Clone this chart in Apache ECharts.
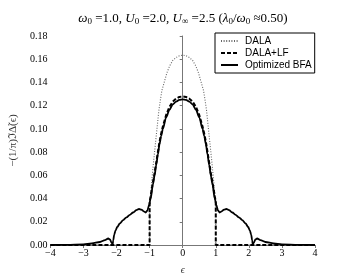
<!DOCTYPE html>
<html>
<head>
<meta charset="utf-8">
<script src="https://cdn.jsdelivr.net/npm/echarts@6/dist/echarts.min.js"></script>
<style>
html,body{margin:0;padding:0;background:#fff;}
#c{width:350px;height:280px;}
</style>
</head>
<body>
<div id="c"></div>
<script>
// ---- data ----
const xTicks = [-4, -3, -2, -1, 0, 1, 2, 3, 4];
const yTicks = [0.00, 0.02, 0.04, 0.06, 0.08, 0.10, 0.12, 0.14, 0.16, 0.18];

const epsDALA = [-4, -1, -1, -0.96, -0.92, -0.88, -0.84, -0.8, -0.76, -0.72, -0.68, -0.63, -0.55, -0.48, -0.4, -0.3, -0.2, -0.1, 0,
                 0.1, 0.2, 0.3, 0.4, 0.48, 0.55, 0.63, 0.68, 0.72, 0.76, 0.8, 0.84, 0.88, 0.92, 0.96, 1, 1, 4];
const dala = [0, 0, 0.034, 0.047, 0.060, 0.072, 0.083, 0.094, 0.105, 0.116, 0.124, 0.133, 0.141, 0.148, 0.154, 0.159, 0.1615, 0.163, 0.1635,
              0.163, 0.1615, 0.159, 0.154, 0.148, 0.141, 0.133, 0.124, 0.116, 0.105, 0.094, 0.083, 0.072, 0.060, 0.047, 0.034, 0, 0];

const epsLF = [-4, -1, -1, -0.97, -0.93, -0.9, -0.85, -0.8, -0.75, -0.7, -0.65, -0.6, -0.5, -0.4, -0.3, -0.2, -0.1, 0,
               0.1, 0.2, 0.3, 0.4, 0.5, 0.6, 0.65, 0.7, 0.75, 0.8, 0.85, 0.9, 0.93, 0.97, 1, 1, 4];
const dalaLF = [0, 0, 0.037, 0.042, 0.049, 0.054, 0.062, 0.071, 0.080, 0.089, 0.096, 0.102, 0.112, 0.119, 0.1235, 0.126, 0.1275, 0.128,
                0.1275, 0.126, 0.1235, 0.119, 0.112, 0.102, 0.096, 0.089, 0.080, 0.071, 0.062, 0.054, 0.049, 0.042, 0.037, 0, 0];

const epsBFA = [-4, -3.5, -3.0, -2.75, -2.5, -2.35, -2.25, -2.2, -2.15, -2.12, -2.1, -2.07, -2.03, -1.98, -1.9, -1.8, -1.7, -1.6, -1.5, -1.4,
                -1.32, -1.25, -1.18, -1.12, -1.07, -1.02, -0.97, -0.9, -0.85, -0.8, -0.75, -0.7, -0.65, -0.6, -0.5, -0.4, -0.3, -0.2, -0.1, 0,
                0.1, 0.2, 0.3, 0.4, 0.5, 0.6, 0.65, 0.7, 0.75, 0.8, 0.85, 0.9, 0.97, 1.02, 1.07, 1.12, 1.18, 1.25, 1.32,
                1.4, 1.5, 1.6, 1.7, 1.8, 1.9, 1.98, 2.03, 2.07, 2.1, 2.12, 2.15, 2.2, 2.25, 2.35, 2.5, 2.75, 3.0, 3.5, 4];
const bfa = [0, 0.0001, 0.0006, 0.0013, 0.0026, 0.0042, 0.0056, 0.0048, 0.002, 0.0, 0.004, 0.009, 0.0125, 0.0155, 0.0185, 0.0215, 0.0238, 0.026, 0.028, 0.030,
             0.031, 0.0305, 0.029, 0.028, 0.0295, 0.034, 0.040, 0.052, 0.060, 0.069, 0.078, 0.087, 0.094, 0.100, 0.110, 0.1165, 0.121, 0.1235, 0.125, 0.1255,
             0.125, 0.1235, 0.121, 0.1165, 0.110, 0.100, 0.094, 0.087, 0.078, 0.069, 0.060, 0.052, 0.040, 0.034, 0.0295, 0.028, 0.029, 0.0305, 0.031,
             0.030, 0.028, 0.026, 0.0238, 0.0215, 0.0185, 0.0155, 0.0125, 0.009, 0.004, 0.0, 0.002, 0.0048, 0.0056, 0.0042, 0.0026, 0.0013, 0.0006, 0.0001, 0];

const seriesNames = ['DALA', 'DALA+LF', 'Optimized BFA'];

// ---- chart ----
const pairs = (xs, ys) => xs.map((x, i) => [x, ys[i]]);
const serif = 'Liberation Serif';
const chart = echarts.init(document.getElementById('c'), null, {renderer: 'canvas'});
chart.setOption({
  animation: false,
  backgroundColor: '#fff',
  title: {
    text: '{i|ω}{s|0} =1.0, {i|U}{s|0} =2.0, {i|U}{s|∞} =2.5 ({i|λ}{s|0}/{i|ω}{s|0} ≈0.50)',
    left: 178, top: 6, textAlign: 'center',
    textStyle: {
      fontFamily: serif, fontSize: 13, fontWeight: 'normal', color: '#000',
      rich: {
        i: {fontFamily: serif, fontStyle: 'italic', fontSize: 13, color: '#000'},
        s: {fontFamily: serif, fontSize: 9, color: '#000', padding: [6, 0, 0, 0]}
      }
    }
  },
  legend: {
    orient: 'vertical', left: 215, top: 33,
    itemWidth: 17, itemHeight: 10, itemGap: 2,
    padding: [3, 3, 3, 5],
    borderColor: '#000', borderWidth: 1, borderRadius: 0,
    itemStyle: {opacity: 0},
    textStyle: {fontFamily: 'Liberation Sans', fontSize: 10, color: '#000', padding: [0, 0, 0, 2]},
    data: seriesNames
  },
  grid: {left: 44, right: 35, top: 36, bottom: 28.5, containLabel: false},
  xAxis: {
    type: 'value', min: xTicks[0], max: xTicks[xTicks.length - 1], interval: 1,
    name: 'ϵ', nameLocation: 'middle', nameGap: 20,
    nameTextStyle: {fontFamily: serif, fontStyle: 'italic', fontSize: 10, color: '#333'},
    axisLine: {show: true, lineStyle: {color: '#777', width: 1}},
    axisTick: {show: true, length: 3, lineStyle: {color: '#777'}},
    splitLine: {show: false},
    axisLabel: {fontFamily: serif, fontSize: 10, color: '#000', margin: 3,
      formatter: v => (v < 0 ? '\u2212' + Math.abs(v) : String(v))}
  },
  yAxis: {
    type: 'value', min: yTicks[0], max: yTicks[yTicks.length - 1], interval: 0.02,
    name: '\u2212(1/\u03c0)\u2111\u0394\u0303(\u03f5)', nameLocation: 'middle', nameGap: 18, nameRotate: 90,
    nameTextStyle: {fontFamily: serif, fontSize: 11, color: '#333'},
    axisLine: {show: true, lineStyle: {color: '#777', width: 1}},
    axisTick: {show: true, length: 3, lineStyle: {color: '#777'}},
    splitLine: {show: false},
    axisLabel: {fontFamily: serif, fontSize: 10, color: '#000', margin: 3,
      formatter: v => v.toFixed(2)}
  },
  series: [
    {name: seriesNames[0], type: 'line', showSymbol: false, symbol: 'none', smooth: false,
      data: pairs(epsDALA, dala), z: 2,
      lineStyle: {color: '#666', width: 1.1, type: [1, 1.6]}, itemStyle: {color: '#666'}},
    {name: seriesNames[1], type: 'line', showSymbol: false, symbol: 'none', smooth: false,
      data: pairs(epsLF, dalaLF), z: 4,
      lineStyle: {color: '#000', width: 2, type: [4, 2]}, itemStyle: {color: '#000'}},
    {name: seriesNames[2], type: 'line', showSymbol: false, symbol: 'none', smooth: 0.3, smoothMonotone: 'x',
      data: pairs(epsBFA, bfa), z: 3,
      lineStyle: {color: '#000', width: 1.8}, itemStyle: {color: '#000'}}
  ]
});
</script>
</body>
</html>
